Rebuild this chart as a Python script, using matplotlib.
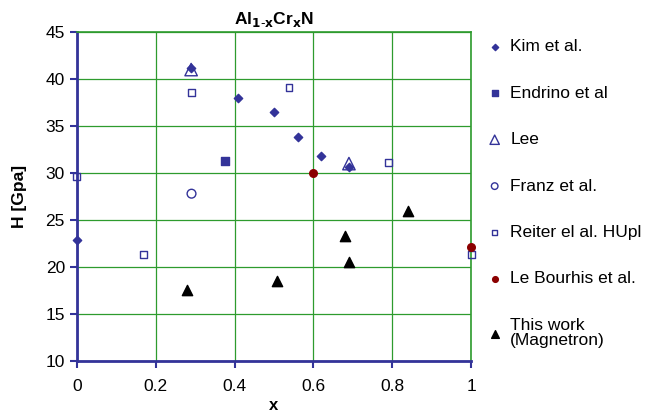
import matplotlib
matplotlib.use('Agg')
import matplotlib.pyplot as plt

plt.rcParams['font.family'] = ['Liberation Sans', 'DejaVu Sans']

blue = '#333399'

kim_x = [0, 0.29, 0.41, 0.50, 0.56, 0.62, 0.69]
kim_y = [22.9, 41.2, 38.0, 36.5, 33.8, 31.85, 30.6]
endrino_x = [0.377]
endrino_y = [31.3]
lee_x = [0.29, 0.69]
lee_y = [41.0, 31.0]
franz_x = [0.291]
franz_y = [27.8]
reiter_x = [0, 0.17, 0.29, 0.538, 0.79, 1.0]
reiter_y = [29.6, 21.3, 38.55, 39.1, 31.1, 21.3]
bourhis_x = [0.6, 1.0]
bourhis_y = [30.0, 22.1]
work_x = [0.279, 0.508, 0.68, 0.691, 0.84]
work_y = [17.6, 18.5, 23.3, 20.5, 26.0]

fig = plt.figure(figsize=(6.5, 4.15), dpi=100)
ax = fig.add_axes([0.118, 0.130, 0.607, 0.793])

ax.scatter(kim_x, kim_y, marker='D', s=18, color=blue, label='Kim et al.', zorder=4, clip_on=False)
ax.scatter(endrino_x, endrino_y, marker='s', s=30, color=blue, label='Endrino et al', zorder=4, clip_on=False)
ax.scatter(lee_x, lee_y, marker='^', s=80, facecolors='none', edgecolors=blue, linewidths=1.0,
           label='Lee', zorder=3, clip_on=False)
ax.scatter(franz_x, franz_y, marker='o', s=40, facecolors='none', edgecolors=blue, linewidths=1.0,
           label='Franz et al.', zorder=3, clip_on=False)
ax.scatter(reiter_x, reiter_y, marker='s', s=24, facecolors='none', edgecolors=blue, linewidths=1.0,
           label='Reiter el al. HUpl', zorder=3, clip_on=False)
ax.scatter(bourhis_x, bourhis_y, marker='o', s=30, color='#8b0000', label='Le Bourhis et al.', zorder=5,
           clip_on=False)
ax.scatter(work_x, work_y, marker='^', s=55, color='black', label='This work\n(Magnetron)', zorder=4,
           clip_on=False)

ax.set_xlim(0, 1)
ax.set_ylim(10, 45)
ax.set_xticks([0, 0.2, 0.4, 0.6, 0.8, 1])
ax.set_xticklabels(['0', '0.2', '0.4', '0.6', '0.8', '1'])
ax.set_yticks(range(10, 50, 5))
ax.tick_params(labelsize=12.5, length=5, width=1.5, color=blue, direction='out')
ax.tick_params(axis='x', pad=8)

ax.grid(True, color='#2e9b2e', linewidth=0.9)
ax.set_axisbelow(True)
for side in ['left', 'bottom']:
    ax.spines[side].set_color(blue)
    ax.spines[side].set_linewidth(2)
for side in ['top', 'right']:
    ax.spines[side].set_color('#2e9b2e')
    ax.spines[side].set_linewidth(1.2)

ax.set_title('Al$_{\\mathbf{1\\text{-}x}}$Cr$_{\\mathbf{x}}$N', fontsize=12.5, fontweight='bold', pad=6)
ax.set_xlabel('x', fontsize=12, fontweight='bold', labelpad=3)
ax.set_ylabel('H [Gpa]', fontsize=12.5, fontweight='bold', labelpad=13)

leg = fig.legend(loc='upper left', bbox_to_anchor=(0.729, 0.922), frameon=False, fontsize=12.5,
                 labelspacing=1.8, handletextpad=0.1, handlelength=1.6, markerscale=0.75,
                 scatterpoints=1, borderaxespad=0)
for t in leg.get_texts():
    t.set_linespacing(1.0)

fig.savefig('out.png', dpi=100)
